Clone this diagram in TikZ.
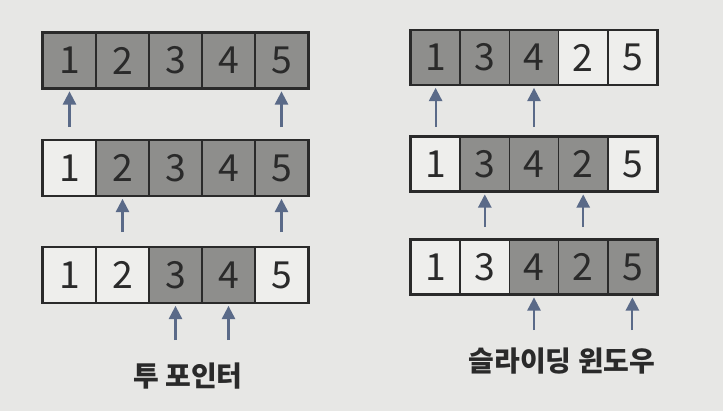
\documentclass[tikz,border=0pt]{standalone}
\usepackage{fontspec}
\setmainfont{Noto Sans CJK KR}
\usetikzlibrary{arrows.meta}
\definecolor{bg}{HTML}{E7E7E5}
\definecolor{dk}{HTML}{8E8E8C}
\definecolor{wt}{HTML}{EEEEEC}
\definecolor{ink}{HTML}{2A2A2A}
\definecolor{arr}{HTML}{5A6A88}
\tikzset{
  cellL/.style={draw=ink, line width=1.1pt, minimum width=39.75pt, minimum height=41.25pt, inner sep=0pt, text=ink, font=\fontsize{28}{28}\selectfont},
  cellR/.style={cellL, minimum width=36.9pt, minimum height=40.5pt},
  frame/.style={draw=ink, line width=1.7pt},
  ptr/.style={draw=arr, line width=1.6pt, -{Triangle[width=10pt,length=10pt]}, shorten >=2pt},
  lbl/.style={text=ink, font=\fontsize{21}{21}\selectfont\bfseries}
}
\begin{document}
\begin{tikzpicture}[x=0.75pt,y=-0.75pt]
\fill[bg] (0,0) rectangle (723,411);
\useasboundingbox (0,0) rectangle (723,411);
% left column (two pointers)
\foreach \v/\f [count=\i] in {1/dk,2/dk,3/dk,4/dk,5/dk}
  \node[cellL, fill=\f] (La\i) at ({43+53*(\i-0.5)},60.5) {\v};
\foreach \v/\f [count=\i] in {1/wt,2/dk,3/dk,4/dk,5/dk}
  \node[cellL, fill=\f] (Lb\i) at ({43+53*(\i-0.5)},168) {\v};
\foreach \v/\f [count=\i] in {1/wt,2/wt,3/dk,4/dk,5/wt}
  \node[cellL, fill=\f] (Lc\i) at ({43+53*(\i-0.5)},275) {\v};
\foreach \r in {La,Lb,Lc}
  \draw[frame] (\r1.north west) rectangle (\r5.south east);
% right column (sliding window)
\foreach \v/\f [count=\i] in {1/dk,3/dk,4/dk,2/wt,5/wt}
  \node[cellR, fill=\f] (Ra\i) at ({411+49.2*(\i-0.5)},57.5) {\v};
\foreach \v/\f [count=\i] in {1/wt,3/dk,4/dk,2/dk,5/wt}
  \node[cellR, fill=\f] (Rb\i) at ({411+49.2*(\i-0.5)},164) {\v};
\foreach \v/\f [count=\i] in {1/wt,3/wt,4/dk,2/dk,5/dk}
  \node[cellR, fill=\f] (Rc\i) at ({411+49.2*(\i-0.5)},267) {\v};
\foreach \r in {Ra,Rb,Rc}
  \draw[frame] (\r1.north west) rectangle (\r5.south east);
% pointer tails
\coordinate (ta1) at (La1.south |- 0,127);
\coordinate (ta5) at (La5.south |- 0,127);
\coordinate (tb2) at (Lb2.south |- 0,232);
\coordinate (tb5) at (Lb5.south |- 0,232);
\coordinate (tc3) at (Lc3.south |- 0,340);
\coordinate (tc4) at (Lc4.south |- 0,340);
\coordinate (ua1) at (Ra1.south |- 0,127);
\coordinate (ua3) at (Ra3.south |- 0,127);
\coordinate (ub2) at (Rb2.south |- 0,227);
\coordinate (ub4) at (Rb4.south |- 0,227);
\coordinate (uc3) at (Rc3.south |- 0,330);
\coordinate (uc5) at (Rc5.south |- 0,330);
\draw[ptr] (ta1) -- (La1.south);
\draw[ptr] (ta5) -- (La5.south);
\draw[ptr] (tb2) -- (Lb2.south);
\draw[ptr] (tb5) -- (Lb5.south);
\draw[ptr] (tc3) -- (Lc3.south);
\draw[ptr] (tc4) -- (Lc4.south);
\draw[ptr] (ua1) -- (Ra1.south);
\draw[ptr] (ua3) -- (Ra3.south);
\draw[ptr] (ub2) -- (Rb2.south);
\draw[ptr] (ub4) -- (Rb4.south);
\draw[ptr] (uc3) -- (Rc3.south);
\draw[ptr] (uc5) -- (Rc5.south);
% labels
\node[lbl] (twoptr) at (188,376) {투 포인터};
\node[lbl] (slide) at (562,361) {슬라이딩 윈도우};
\end{tikzpicture}
\end{document}
